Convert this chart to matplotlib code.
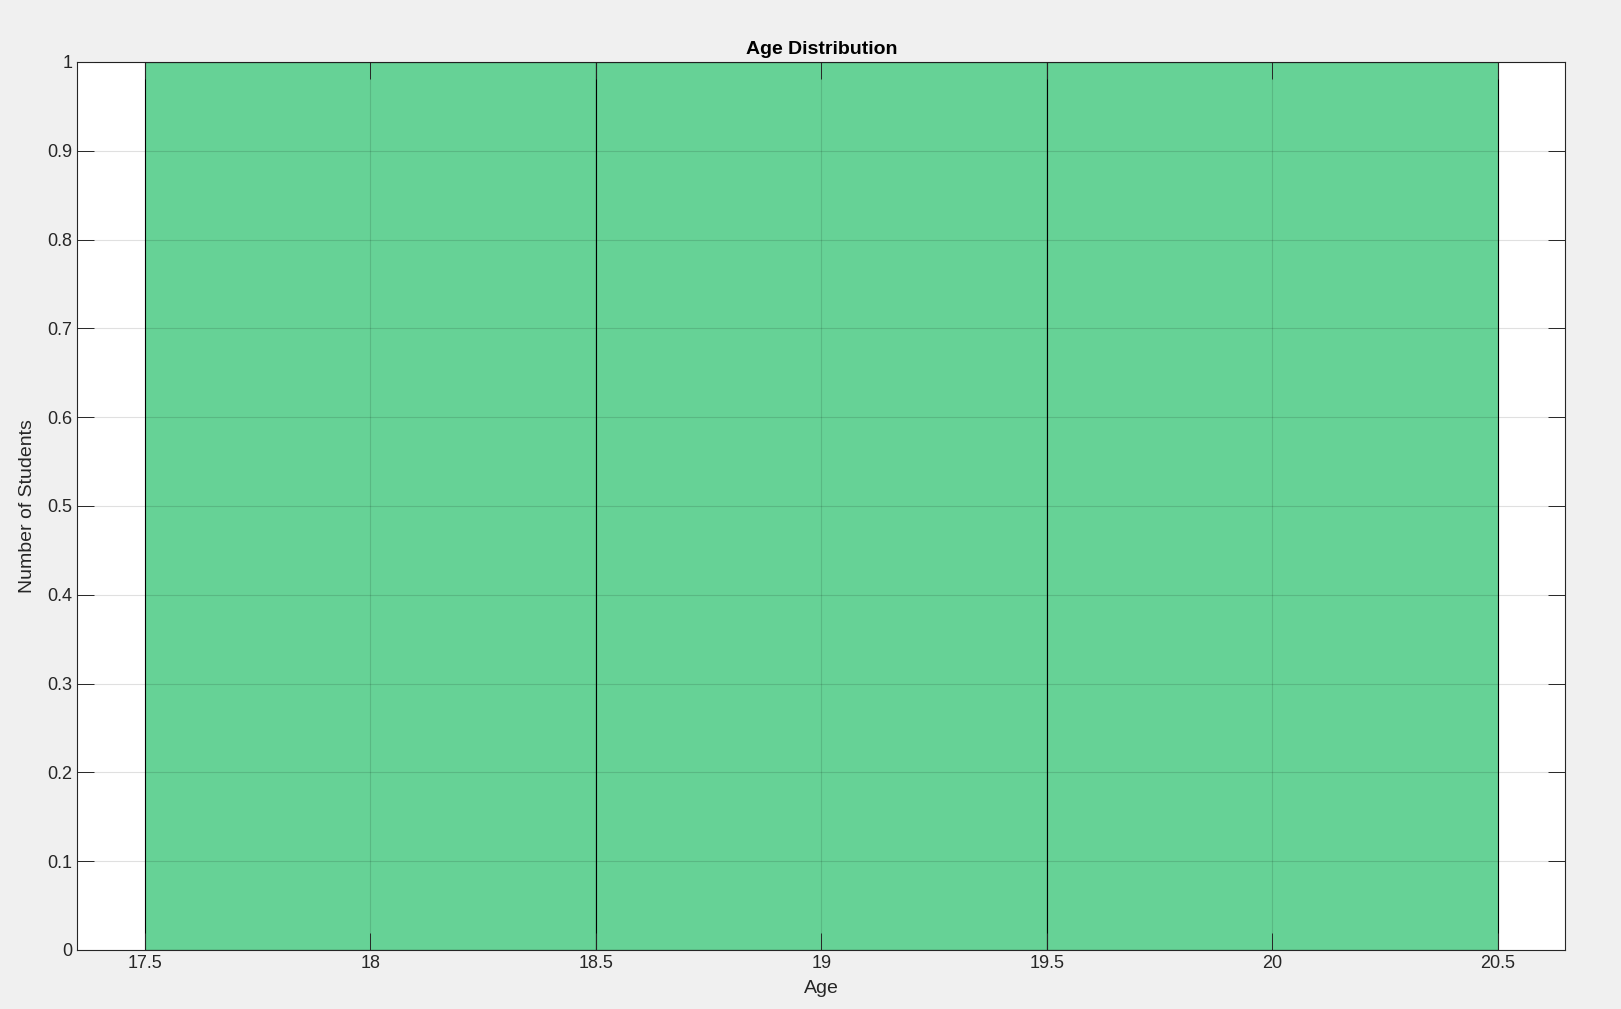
import matplotlib
matplotlib.use("Agg")
import matplotlib.pyplot as plt
import numpy as np

plt.rcParams['font.family'] = ['Liberation Sans', 'DejaVu Sans']

bin_centers = [18, 19, 20]
counts = [1, 1, 1]
bin_width = 1.0

fig = plt.figure(figsize=(16.21, 10.09), dpi=100, facecolor='#F0F0F0')
ax = fig.add_axes([0.0478, 0.0585, 0.9178, 0.8801])
ax.set_facecolor('white')

ax.bar(bin_centers, counts, width=bin_width, color='#66D296',
       edgecolor='black', linewidth=0.8, zorder=1)

ax.set_xlim(17.351, 20.649)
ax.set_ylim(0, 1)
ax.set_xticks(np.arange(17.5, 20.51, 0.5))
ax.set_xticklabels(['17.5', '18', '18.5', '19', '19.5', '20', '20.5'])
ax.set_yticks(np.arange(0, 1.01, 0.1))
ax.set_yticklabels(['0'] + [f'{v:.1f}' for v in np.arange(0.1, 1.0, 0.1)] + ['1'])
ax.grid(True, color='#000000', alpha=0.12, linewidth=0.8, zorder=2)
ax.set_axisbelow(False)
ax.tick_params(direction='in', top=True, right=True, length=12, width=0.7,
               labelsize=13, colors='#262626')
for s in ax.spines.values():
    s.set_linewidth(0.8)
    s.set_color('#262626')

ax.set_title('Age Distribution', fontsize=14, fontweight='bold', pad=6)
ax.set_xlabel('Age', fontsize=14, color='#262626', labelpad=6)
ax.set_ylabel('Number of Students', fontsize=14, color='#262626', labelpad=8)

fig.savefig('out.png', dpi=100, facecolor=fig.get_facecolor())
